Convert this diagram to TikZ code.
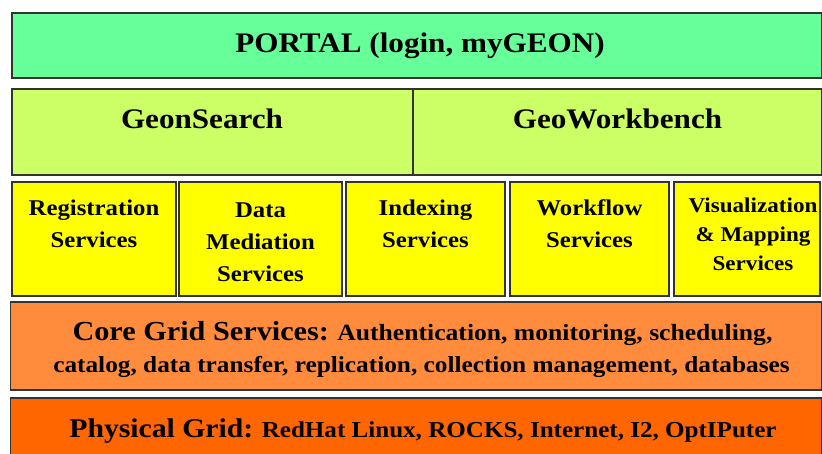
\documentclass[tikz,border=0pt]{standalone}
\usepackage{fontspec}
\setmainfont{Liberation Serif}[FakeStretch=1.1]
\definecolor{portalgreen}{HTML}{66FF99}
\definecolor{toolgreen}{HTML}{CCFF66}
\definecolor{svcyellow}{HTML}{FFFF00}
\definecolor{coreorange}{HTML}{FF8C3C}
\definecolor{physorange}{HTML}{FF6600}
\begin{document}
\begin{tikzpicture}[x=1pt,y=-1pt,
  layer/.style={draw=black!80,line width=1.3pt,inner sep=0pt},
  lbl/.style={inner sep=0pt,anchor=base,font=\bfseries},
  bigtxt/.style={lbl,font=\bfseries\fontsize{28.3}{30}\selectfont},
  gridtxt/.style={lbl,font=\bfseries\fontsize{23}{25}\selectfont},
  svc/.style={inner sep=0pt,anchor=base,align=center,font=\bfseries\fontsize{22.5}{32}\selectfont}]
\useasboundingbox (0,0) rectangle (822,453);
\fill[white] (0,0) rectangle (822,453);

% portal layer
\draw[layer,fill=portalgreen] (12,13) rectangle (821.5,78);
\node[bigtxt] (portal) at (420,52) {PORTAL (login, myGEON)};

% search and workbench tools
\draw[layer,fill=toolgreen] (12,89) rectangle (413,175);
\draw[layer,fill=toolgreen] (413,89) rectangle (821.5,175);
\node[bigtxt] (search) at (202,128) {GeonSearch};
\node[bigtxt] (bench) at (617.5,128) {GeoWorkbench};

% service boxes (node base = baseline of the last line)
\draw[layer,fill=svcyellow] (12,182) rectangle (176,296);
\draw[layer,fill=svcyellow] (179,182) rectangle (342,296);
\draw[layer,fill=svcyellow] (346,182) rectangle (505,296);
\draw[layer,fill=svcyellow] (510,182) rectangle (669,296);
\draw[layer,fill=svcyellow] (674,182) rectangle (820,296);
\node[svc] (reg) at (94,247) {Registration\\Services};
\node[svc] (med) at (260.5,281) {Data\\Mediation\\Services};
\node[svc] (idx) at (425.5,247) {Indexing\\Services};
\node[svc] (wf) at (589.5,247) {Workflow\\Services};
\node[svc,font=\bfseries\fontsize{21}{29}\selectfont] (vis) at (753,270) {Visualization\\\& Mapping\\Services};

% core grid
\draw[layer,fill=coreorange] (10.5,302) rectangle (821.5,390);
\node[gridtxt] (core1) at (422.5,340)
  {{\fontsize{27.5}{30}\selectfont Core Grid Services:} \fontsize{23.3}{25}\selectfont Authentication, monitoring, scheduling,};
\node[gridtxt] (core2) at (421.5,372)
  {catalog, data transfer, replication, collection management, databases};

% physical grid
\draw[layer,fill=physorange] (10.5,398) rectangle (821.5,460);
\node[gridtxt] (phys) at (423,437)
  {{\fontsize{27}{30}\selectfont Physical Grid:} \fontsize{22.8}{25}\selectfont RedHat Linux, ROCKS, Internet, I2, OptIPuter};
\end{tikzpicture}
\end{document}
